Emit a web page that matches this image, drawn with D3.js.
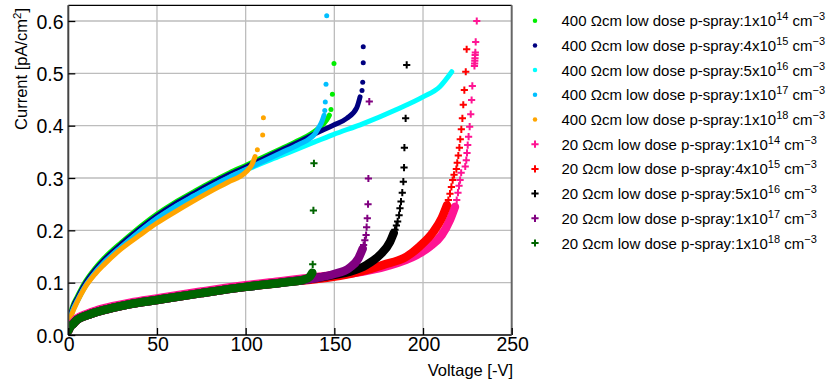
<!DOCTYPE html>
<html><head><meta charset="utf-8">
<script src="https://cdn.jsdelivr.net/npm/d3@7"></script>
<style>body{margin:0;background:#fff}svg{font-family:"Liberation Sans",Arial,sans-serif}</style>
</head><body><svg id="c" width="829" height="385"></svg>
<script>
// ---- data (voltage [-V], current [pA/cm2]) ----
const xTicks = [0, 50, 100, 150, 200, 250];
const yTicks = [0.0, 0.1, 0.2, 0.3, 0.4, 0.5, 0.6];
const labels = [
  ["400 Ωcm low dose p-spray:1x10", "14"],
  ["400 Ωcm low dose p-spray:4x10", "15"],
  ["400 Ωcm low dose p-spray:5x10", "16"],
  ["400 Ωcm low dose p-spray:1x10", "17"],
  ["400 Ωcm low dose p-spray:1x10", "18"],
  ["20 Ωcm low dose p-spray:1x10", "14"],
  ["20 Ωcm low dose p-spray:4x10", "15"],
  ["20 Ωcm low dose p-spray:5x10", "16"],
  ["20 Ωcm low dose p-spray:1x10", "17"],
  ["20 Ωcm low dose p-spray:1x10", "18"]
];
const colors = ["#00ee00", "#000080", "#00ffff", "#00bfff", "#ffa500",
                "#ff1493", "#ff0000", "#000000", "#800080", "#006400"];
const markers = ["dot","dot","dot","dot","dot","cross","cross","cross","cross","cross"];

// dense (overlapping) part of each series
const lime_dense = [[0,0.018],[1,0.038],[2,0.05],[3.2,0.061],[5,0.073],[8.9,0.098],[15,0.127],[20,0.146],[30,0.177],[37,0.197],[50,0.231],[60,0.253],[70.9,0.274],[80,0.291],[91,0.31],[100,0.324],[110,0.34],[120,0.356],[130,0.372],[140,0.392],[145.7,0.411],[147.2,0.42]];
const navy_dense = [[0,0.015],[1,0.035],[2,0.047],[3.2,0.058],[5,0.07],[8.9,0.095],[15,0.124],[20,0.143],[30,0.174],[37,0.194],[50,0.228],[60,0.25],[70.9,0.271],[80,0.288],[91,0.307],[100,0.321],[110,0.337],[120,0.353],[130,0.369],[140,0.386],[149.4,0.401],[157,0.414],[162.6,0.434],[164.5,0.455]];
const cyan_dense = [[0,0.011],[1,0.029],[2,0.041],[3.2,0.052],[5,0.064],[8.9,0.089],[15,0.118],[20,0.137],[30,0.168],[37,0.188],[50,0.222],[60,0.244],[70.9,0.265],[80,0.282],[91,0.301],[100,0.315],[120.1,0.343],[138.2,0.368],[149.4,0.383],[166.3,0.404],[185.1,0.431],[200,0.455],[209.6,0.475],[216.2,0.503]];
const sky_dense = [[0,0.011],[1,0.03],[2,0.042],[3.2,0.053],[5,0.065],[8.9,0.09],[15,0.119],[20,0.138],[30,0.169],[37,0.189],[50,0.223],[60,0.245],[70.9,0.266],[80,0.283],[91,0.302],[100,0.316],[110,0.332],[120,0.348],[130,0.364],[136,0.375],[139,0.384],[141,0.395],[143,0.408],[144.2,0.42]];
const orange_dense = [[0,0.018],[2,0.04],[5,0.063],[8.9,0.088],[15,0.116],[20,0.134],[30,0.165],[40,0.19],[50,0.214],[60,0.235],[70,0.255],[80,0.274],[90,0.292],[100,0.311],[103.4,0.325],[105.3,0.341]];
const pink_dense = [[0,0.011],[1,0.018],[3,0.025],[5,0.032],[10,0.04],[16,0.047],[25,0.055],[35,0.062],[50,0.07],[75,0.083],[100,0.095],[120,0.103],[140,0.111],[160,0.118],[180,0.132],[196.4,0.153],[203.9,0.169],[210.5,0.191],[215.2,0.22],[218,0.245]];
const red_dense = [[0,0.008],[1,0.015],[3,0.022],[5,0.029],[10,0.037],[16,0.044],[25,0.052],[35,0.059],[50,0.067],[75,0.08],[100,0.092],[120,0.1],[140,0.107],[153.2,0.113],[164.5,0.121],[177.6,0.134],[190.8,0.15],[198.3,0.17],[205.8,0.197],[210.5,0.223],[213.5,0.248]];
const black_dense = [[0,0.008],[1,0.015],[3,0.022],[5,0.029],[10,0.037],[16,0.044],[25,0.052],[35,0.059],[50,0.067],[75,0.08],[100,0.092],[120,0.1],[140,0.109],[150,0.115],[158.8,0.121],[168.2,0.134],[175.7,0.153],[181.4,0.178],[183.5,0.195]];
const purple_dense = [[0,0.008],[1,0.015],[3,0.022],[5,0.029],[10,0.037],[16,0.044],[25,0.052],[35,0.059],[50,0.067],[75,0.08],[100,0.092],[120,0.1],[140,0.109],[149.4,0.116],[158.8,0.129],[163.5,0.146],[166,0.165]];
const dgreen_dense = [[0,0.008],[1,0.015],[3,0.022],[5,0.029],[10,0.037],[16,0.044],[25,0.052],[35,0.059],[50,0.067],[75,0.08],[100,0.092],[120,0.1],[133,0.106],[136,0.111],[137.6,0.119]];

// sparse (separately visible) points of each series
const lime_sparse = [[148.1,0.431],[148.9,0.46],[149.8,0.519]];
const navy_sparse = [[165.6,0.467],[166,0.483],[166.3,0.52],[166.3,0.551]];
const cyan_sparse = [];
const sky_sparse = [[144.6,0.429],[144.9,0.445],[145.3,0.479],[145.7,0.61]];
const orange_sparse = [[106.6,0.354],[109.6,0.382],[110,0.415]];
const pink_sparse = [[219,0.258],[219.7,0.272],[220.3,0.285],[220.9,0.296],[221.5,0.31],[223.8,0.322],[224.4,0.334],[224.8,0.348],[225.2,0.363],[225.7,0.379],[226.3,0.398],[226.9,0.422],[227.4,0.449],[227.8,0.476],[229,0.514],[229.1,0.519],[229.2,0.524],[229.3,0.529],[229.4,0.535],[229.5,0.54],[229.7,0.56],[230.3,0.6]];
const red_sparse = [[214.3,0.258],[215.2,0.27],[216,0.283],[216.7,0.296],[217.5,0.306],[218.8,0.317],[219.3,0.329],[219.9,0.343],[220.5,0.358],[221,0.374],[221.6,0.393],[222.2,0.414],[222.7,0.44],[223.3,0.468],[224.1,0.503],[224.6,0.546]];
const black_sparse = [[184.2,0.201],[185,0.209],[185.7,0.217],[186.5,0.229],[187,0.242],[187.6,0.255],[188.3,0.272],[188.9,0.293],[189.3,0.32],[189.5,0.358],[190.2,0.414],[190.8,0.516]];
const purple_sparse = [[166.5,0.172],[167.2,0.181],[167.9,0.191],[168.2,0.206],[168.6,0.223],[169,0.25],[169.2,0.299],[169.7,0.446]];
const dgreen_sparse = [[137.8,0.135],[138.2,0.238],[138.5,0.328]];

const denseAll = [lime_dense, navy_dense, cyan_dense, sky_dense, orange_dense, pink_dense, red_dense, black_dense, purple_dense, dgreen_dense];
const sparseAll = [lime_sparse, navy_sparse, cyan_sparse, sky_sparse, orange_sparse, pink_sparse, red_sparse, black_sparse, purple_sparse, dgreen_sparse];

// ---- layout ----
const L = 68.3, R = 511.7, T = 5.3, B = 335;
const x = d3.scaleLinear().domain([0, 250]).range([L, R]);
const y = d3.scaleLinear().domain([0, 0.63]).range([B, T]);
const svg = d3.select("#c");

svg.append("defs").append("clipPath").attr("id", "clip")
  .append("rect").attr("x", L).attr("y", T).attr("width", R - L).attr("height", B - T);

// grid
const grid = svg.append("g");
grid.selectAll(".gx").data(xTicks.slice(1, -1)).enter().append("line")
  .attr("x1", d => x(d)).attr("x2", d => x(d)).attr("y1", T).attr("y2", B)
  .attr("stroke", "#bdbdbd").attr("stroke-width", 1.3);
grid.selectAll(".gy").data(yTicks.slice(1)).enter().append("line")
  .attr("y1", d => y(d)).attr("y2", d => y(d)).attr("x1", L).attr("x2", R)
  .attr("stroke", "#bdbdbd").attr("stroke-width", 1.3);

// data
const plot = svg.append("g").attr("clip-path", "url(#clip)");
const line = d3.line().x(d => x(d[0])).y(d => y(d[1])).curve(d3.curveMonotoneX);
function marker(g, type, px, py, col, s) {
  if (type === "dot") {
    g.append("circle").attr("cx", px).attr("cy", py).attr("r", 2.5 * s).attr("fill", col);
  } else {
    const h = 3.6 * s;
    g.append("path").attr("d", `M${px - h},${py}H${px + h}M${px},${py - h}V${py + h}`)
      .attr("stroke", col).attr("stroke-width", 2 * s).attr("fill", "none");
  }
}
denseAll.forEach((ds, i) => {
  const g = plot.append("g");
  if (ds.length) {
    g.append("path").datum(ds).attr("d", line).attr("fill", "none")
      .attr("stroke", colors[i]).attr("stroke-width", markers[i] === "dot" ? 5 : 8.5)
      .attr("stroke-linecap", "round").attr("stroke-linejoin", "round");
  }
  sparseAll[i].forEach(p => marker(g, markers[i], x(p[0]), y(p[1]), colors[i], 1));
});

// frame
svg.append("line").attr("x1", L).attr("x2", R).attr("y1", T).attr("y2", T).attr("stroke", "#000").attr("stroke-width", 1.2);
svg.append("line").attr("x1", L).attr("x2", R).attr("y1", B).attr("y2", B).attr("stroke", "#000").attr("stroke-width", 1.5);
svg.append("line").attr("x1", L).attr("x2", L).attr("y1", T).attr("y2", B).attr("stroke", "#444").attr("stroke-width", 2);
svg.append("line").attr("x1", R).attr("x2", R).attr("y1", T).attr("y2", B).attr("stroke", "#666").attr("stroke-width", 2);

// axes (inward ticks)
const xAxis = d3.axisTop(x).tickValues(xTicks).tickSize(7).tickFormat("");
svg.append("g").attr("transform", `translate(0,${B})`).call(xAxis)
  .call(g => { g.select(".domain").remove(); g.selectAll("line").attr("stroke", "#000").attr("stroke-width", 1.3); });
const yAxis = d3.axisRight(y).tickValues(yTicks).tickSize(7).tickFormat("");
svg.append("g").attr("transform", `translate(${L},0)`).call(yAxis)
  .call(g => { g.select(".domain").remove(); g.selectAll("line").attr("stroke", "#000").attr("stroke-width", 1.3); });

// tick labels
svg.append("g").selectAll("text").data(xTicks).enter().append("text")
  .attr("x", d => x(d) + 1).attr("y", 350.5).attr("text-anchor", "middle")
  .attr("font-size", 19.5).attr("fill", "#000").text(d => d);
svg.append("g").selectAll("text").data(yTicks).enter().append("text")
  .attr("x", 63.5).attr("y", d => y(d) + 7.5).attr("text-anchor", "end")
  .attr("font-size", 19.5).attr("fill", "#000").text(d => d.toFixed(1));

// axis titles
svg.append("text").attr("x", 513).attr("y", 376).attr("text-anchor", "end")
  .attr("font-size", 16.5).text("Voltage [-V]");
const yt = svg.append("text").attr("transform", "translate(27,8) rotate(-90)")
  .attr("text-anchor", "end").attr("font-size", 16.5);
yt.append("tspan").text("Current [pA/cm");
yt.append("tspan").attr("font-size", 11.5).attr("dy", -6).text("2");
yt.append("tspan").attr("dy", 6).text("]");

// legend
const lg = svg.append("g");
labels.forEach((lab, i) => {
  const cy = 20.7 + i * 24.7;
  marker(lg, markers[i], 535, cy, colors[i], markers[i] === "dot" ? 0.9 : 1);
  const t = lg.append("text").attr("x", 561.5).attr("y", cy + 5.5).attr("font-size", 15).attr("fill", "#000");
  t.append("tspan").text(lab[0]);
  t.append("tspan").attr("font-size", 11).attr("dy", -6).text(lab[1]);
  t.append("tspan").attr("dy", 6).text(" cm");
  t.append("tspan").attr("font-size", 11).attr("dy", -6).text("\u22123");
});
</script></body></html>
